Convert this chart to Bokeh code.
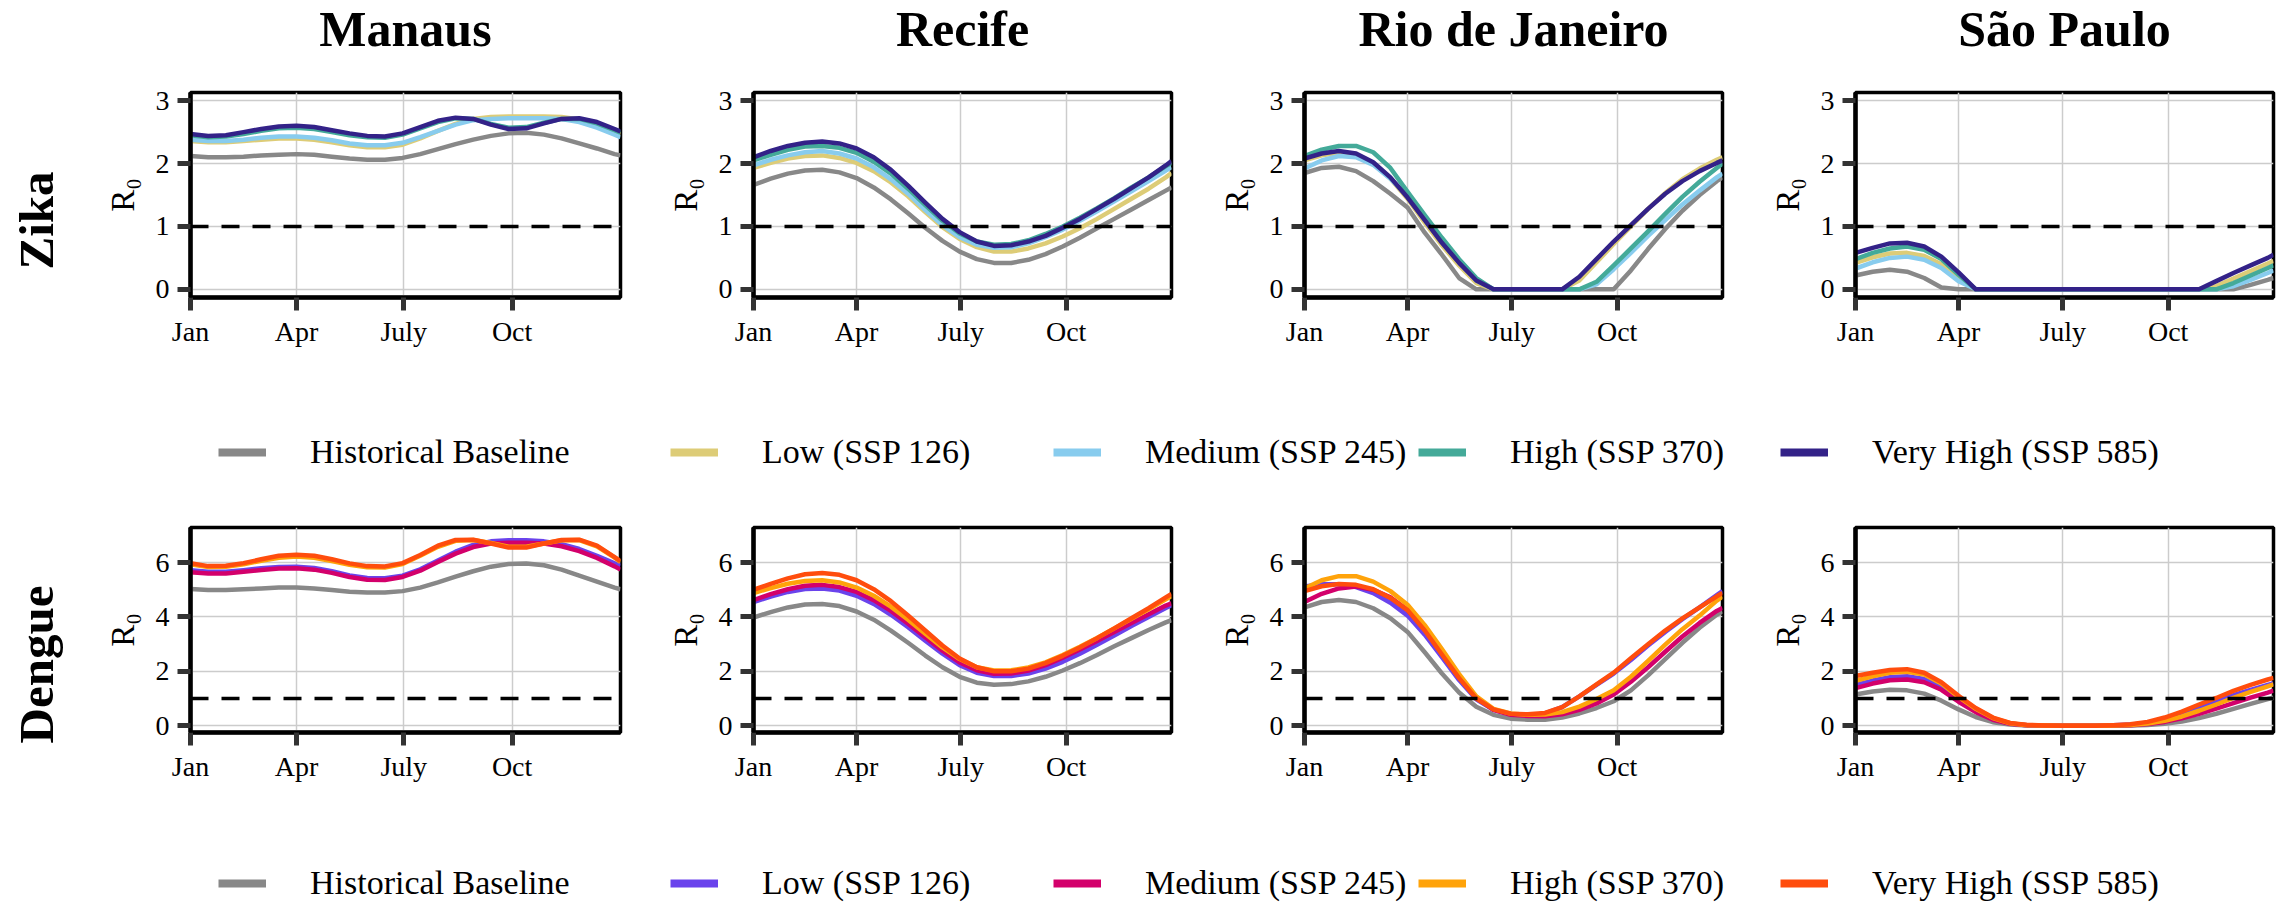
from bokeh.plotting import figure
from bokeh.layouts import column, row
from bokeh.models import Range1d, FixedTicker, Span, Label, Legend, LegendItem
from bokeh.embed import file_html
from bokeh.resources import INLINE

# ---------------- data ----------------
days = [0, 15, 30, 45, 60, 75, 90, 105, 120, 135, 150, 165, 180, 195, 210,
        225, 240, 255, 270, 285, 300, 315, 330, 345, 360, 365]
month_ticks = [0, 90, 181, 273]
month_labels = ["Jan", "Apr", "July", "Oct"]
cities = ["Manaus", "Recife", "Rio de Janeiro", "São Paulo"]
diseases = ["Zika", "Dengue"]
scenarios = ["Historical Baseline", "Low (SSP 126)", "Medium (SSP 245)",
             "High (SSP 370)", "Very High (SSP 585)"]
zika_colors = ["#888888", "#DDCC77", "#88CCEE", "#44AA99", "#332288"]
dengue_colors = ["#888888", "#6A43EC", "#D3006B", "#FFA30A", "#FF4D0D"]
zika_yticks = [0, 1, 2, 3]
dengue_yticks = [0, 2, 4, 6]
threshold = 1

# Zika – Manaus
zika_manaus_hist = [2.12, 2.10, 2.10, 2.11, 2.13, 2.14, 2.15, 2.14, 2.11, 2.08, 2.06, 2.06, 2.09, 2.15, 2.23, 2.31, 2.38, 2.44, 2.48, 2.49, 2.46, 2.40, 2.32, 2.24, 2.15, 2.13]
zika_manaus_low = [2.36, 2.34, 2.34, 2.36, 2.38, 2.40, 2.40, 2.38, 2.34, 2.29, 2.26, 2.26, 2.30, 2.40, 2.52, 2.63, 2.71, 2.74, 2.75, 2.75, 2.75, 2.74, 2.70, 2.62, 2.51, 2.46]
zika_manaus_med = [2.38, 2.36, 2.36, 2.38, 2.41, 2.43, 2.43, 2.41, 2.37, 2.32, 2.29, 2.29, 2.33, 2.42, 2.52, 2.62, 2.69, 2.71, 2.72, 2.72, 2.72, 2.71, 2.66, 2.57, 2.46, 2.42]
zika_manaus_high = [2.45, 2.42, 2.43, 2.47, 2.52, 2.56, 2.57, 2.55, 2.50, 2.45, 2.42, 2.41, 2.46, 2.56, 2.66, 2.72, 2.71, 2.63, 2.57, 2.58, 2.65, 2.71, 2.71, 2.64, 2.53, 2.49]
zika_manaus_vhigh = [2.47, 2.44, 2.45, 2.50, 2.55, 2.59, 2.60, 2.58, 2.53, 2.48, 2.44, 2.43, 2.48, 2.58, 2.68, 2.73, 2.71, 2.62, 2.55, 2.56, 2.64, 2.71, 2.72, 2.66, 2.55, 2.51]

# Zika – Recife
zika_recife_hist = [1.66, 1.76, 1.84, 1.89, 1.90, 1.86, 1.77, 1.62, 1.43, 1.21, 0.98, 0.77, 0.60, 0.48, 0.42, 0.42, 0.47, 0.56, 0.68, 0.82, 0.97, 1.12, 1.27, 1.42, 1.57, 1.62]
zika_recife_low = [1.93, 2.01, 2.08, 2.12, 2.13, 2.09, 2.01, 1.88, 1.70, 1.48, 1.23, 0.99, 0.80, 0.67, 0.60, 0.60, 0.65, 0.73, 0.84, 0.97, 1.12, 1.28, 1.44, 1.60, 1.78, 1.85]
zika_recife_med = [1.97, 2.06, 2.13, 2.18, 2.20, 2.16, 2.08, 1.94, 1.75, 1.52, 1.26, 1.02, 0.83, 0.71, 0.66, 0.67, 0.73, 0.83, 0.95, 1.09, 1.24, 1.40, 1.56, 1.72, 1.89, 1.94]
zika_recife_high = [2.05, 2.14, 2.22, 2.27, 2.28, 2.25, 2.17, 2.03, 1.84, 1.60, 1.34, 1.09, 0.89, 0.76, 0.71, 0.72, 0.78, 0.88, 1.00, 1.14, 1.29, 1.45, 1.62, 1.78, 1.96, 2.01]
zika_recife_vhigh = [2.10, 2.20, 2.28, 2.33, 2.35, 2.32, 2.24, 2.10, 1.90, 1.65, 1.38, 1.12, 0.91, 0.76, 0.69, 0.70, 0.76, 0.85, 0.98, 1.12, 1.28, 1.44, 1.61, 1.78, 1.97, 2.04]

# Zika – Rio de Janeiro
zika_rio_hist = [1.85, 1.93, 1.95, 1.88, 1.72, 1.52, 1.30, 0.90, 0.55, 0.18, 0, 0, 0, 0, 0, 0, 0, 0, 0, 0.30, 0.64, 0.96, 1.25, 1.50, 1.72, 1.78]
zika_rio_low = [2.05, 2.13, 2.17, 2.13, 2.00, 1.76, 1.44, 1.06, 0.70, 0.38, 0.10, 0, 0, 0, 0, 0, 0.14, 0.43, 0.72, 1.00, 1.28, 1.53, 1.75, 1.92, 2.06, 2.10]
zika_rio_med = [1.92, 2.05, 2.12, 2.10, 1.98, 1.76, 1.48, 1.12, 0.76, 0.43, 0.14, 0, 0, 0, 0, 0, 0, 0.08, 0.32, 0.58, 0.85, 1.10, 1.35, 1.57, 1.78, 1.84]
zika_rio_high = [2.12, 2.22, 2.28, 2.28, 2.18, 1.93, 1.55, 1.18, 0.82, 0.48, 0.18, 0, 0, 0, 0, 0, 0, 0.12, 0.38, 0.65, 0.92, 1.20, 1.47, 1.71, 1.93, 2.00]
zika_rio_vhigh = [2.08, 2.16, 2.20, 2.16, 2.02, 1.78, 1.46, 1.10, 0.74, 0.42, 0.14, 0, 0, 0, 0, 0, 0.20, 0.48, 0.76, 1.02, 1.28, 1.52, 1.72, 1.88, 2.01, 2.05]

# Zika – São Paulo
zika_sp_hist = [0.22, 0.28, 0.31, 0.28, 0.18, 0.03, 0, 0, 0, 0, 0, 0, 0, 0, 0, 0, 0, 0, 0, 0, 0, 0, 0, 0.07, 0.15, 0.18]
zika_sp_low = [0.42, 0.51, 0.57, 0.58, 0.53, 0.40, 0.18, 0, 0, 0, 0, 0, 0, 0, 0, 0, 0, 0, 0, 0, 0, 0.05, 0.17, 0.29, 0.41, 0.45]
zika_sp_med = [0.33, 0.43, 0.50, 0.52, 0.47, 0.34, 0.13, 0, 0, 0, 0, 0, 0, 0, 0, 0, 0, 0, 0, 0, 0, 0, 0.05, 0.15, 0.26, 0.30]
zika_sp_high = [0.48, 0.58, 0.65, 0.68, 0.63, 0.48, 0.23, 0, 0, 0, 0, 0, 0, 0, 0, 0, 0, 0, 0, 0, 0, 0, 0.10, 0.22, 0.34, 0.38]
zika_sp_vhigh = [0.58, 0.66, 0.73, 0.74, 0.68, 0.52, 0.27, 0, 0, 0, 0, 0, 0, 0, 0, 0, 0, 0, 0, 0, 0, 0.13, 0.26, 0.38, 0.50, 0.55]

# Dengue – Manaus
dengue_manaus_hist = [5.03, 4.99, 4.99, 5.02, 5.05, 5.08, 5.08, 5.05, 4.99, 4.93, 4.90, 4.90, 4.95, 5.08, 5.27, 5.48, 5.68, 5.85, 5.95, 5.97, 5.90, 5.74, 5.52, 5.30, 5.08, 5.02]
dengue_manaus_low = [5.72, 5.66, 5.66, 5.72, 5.79, 5.84, 5.85, 5.80, 5.68, 5.53, 5.43, 5.42, 5.52, 5.75, 6.08, 6.40, 6.65, 6.78, 6.82, 6.82, 6.78, 6.68, 6.50, 6.25, 5.97, 5.88]
dengue_manaus_med = [5.64, 5.60, 5.60, 5.66, 5.73, 5.78, 5.79, 5.74, 5.62, 5.47, 5.37, 5.36, 5.47, 5.70, 6.02, 6.33, 6.57, 6.70, 6.73, 6.73, 6.70, 6.60, 6.42, 6.17, 5.86, 5.74]
dengue_manaus_high = [5.94, 5.84, 5.85, 5.94, 6.07, 6.18, 6.22, 6.18, 6.06, 5.92, 5.83, 5.82, 5.95, 6.25, 6.58, 6.80, 6.83, 6.72, 6.58, 6.58, 6.70, 6.82, 6.83, 6.60, 6.18, 6.02]
dengue_manaus_vhigh = [5.98, 5.87, 5.88, 5.98, 6.12, 6.25, 6.29, 6.25, 6.12, 5.97, 5.87, 5.86, 5.98, 6.28, 6.62, 6.83, 6.84, 6.70, 6.55, 6.55, 6.70, 6.83, 6.84, 6.62, 6.20, 6.05]

# Dengue – Recife
dengue_recife_hist = [3.98, 4.18, 4.35, 4.46, 4.48, 4.40, 4.20, 3.90, 3.50, 3.05, 2.58, 2.15, 1.80, 1.58, 1.51, 1.53, 1.63, 1.80, 2.03, 2.30, 2.60, 2.92, 3.22, 3.52, 3.80, 3.88]
dengue_recife_low = [4.55, 4.75, 4.92, 5.03, 5.05, 4.97, 4.78, 4.48, 4.08, 3.62, 3.13, 2.65, 2.23, 1.95, 1.83, 1.83, 1.92, 2.10, 2.35, 2.65, 2.98, 3.32, 3.67, 4.00, 4.33, 4.43]
dengue_recife_med = [4.62, 4.84, 5.02, 5.15, 5.18, 5.10, 4.92, 4.62, 4.22, 3.75, 3.25, 2.76, 2.33, 2.04, 1.91, 1.92, 2.03, 2.23, 2.50, 2.80, 3.12, 3.45, 3.78, 4.10, 4.42, 4.50]
dengue_recife_high = [4.88, 5.06, 5.22, 5.32, 5.35, 5.27, 5.08, 4.78, 4.38, 3.90, 3.38, 2.88, 2.45, 2.15, 2.03, 2.04, 2.14, 2.33, 2.60, 2.90, 3.23, 3.58, 3.93, 4.28, 4.65, 4.76]
dengue_recife_vhigh = [5.00, 5.22, 5.42, 5.57, 5.62, 5.55, 5.35, 5.02, 4.58, 4.05, 3.50, 2.95, 2.47, 2.15, 2.00, 2.00, 2.10, 2.30, 2.57, 2.88, 3.22, 3.58, 3.95, 4.32, 4.72, 4.85]

# Dengue – Rio de Janeiro
dengue_rio_hist = [4.35, 4.55, 4.62, 4.55, 4.32, 3.95, 3.45, 2.70, 1.92, 1.22, 0.70, 0.40, 0.26, 0.22, 0.22, 0.30, 0.45, 0.65, 0.90, 1.30, 1.85, 2.45, 3.05, 3.60, 4.08, 4.20]
dengue_rio_low = [5.12, 5.20, 5.20, 5.10, 4.88, 4.52, 4.05, 3.35, 2.52, 1.68, 0.97, 0.58, 0.42, 0.38, 0.45, 0.68, 1.08, 1.50, 1.92, 2.42, 2.95, 3.45, 3.92, 4.35, 4.80, 4.95]
dengue_rio_med = [4.55, 4.85, 5.05, 5.12, 5.00, 4.72, 4.25, 3.55, 2.70, 1.82, 1.05, 0.58, 0.40, 0.36, 0.35, 0.42, 0.58, 0.82, 1.15, 1.62, 2.15, 2.72, 3.28, 3.78, 4.22, 4.33]
dengue_rio_high = [5.05, 5.35, 5.50, 5.50, 5.30, 4.95, 4.45, 3.70, 2.82, 1.90, 1.08, 0.62, 0.45, 0.40, 0.41, 0.50, 0.70, 0.98, 1.30, 1.80, 2.38, 2.98, 3.55, 4.05, 4.60, 4.75]
dengue_rio_vhigh = [4.95, 5.13, 5.21, 5.18, 5.02, 4.70, 4.25, 3.50, 2.62, 1.75, 1.00, 0.60, 0.44, 0.42, 0.47, 0.68, 1.08, 1.52, 1.95, 2.48, 3.00, 3.50, 3.95, 4.35, 4.76, 4.88]

# Dengue – São Paulo
dengue_sp_hist = [1.15, 1.26, 1.32, 1.30, 1.18, 0.92, 0.60, 0.32, 0.13, 0.04, 0.01, 0, 0, 0, 0, 0, 0.01, 0.03, 0.07, 0.15, 0.28, 0.44, 0.62, 0.80, 0.98, 1.03]
dengue_sp_low = [1.50, 1.66, 1.78, 1.82, 1.72, 1.42, 0.95, 0.55, 0.24, 0.08, 0.02, 0.01, 0, 0, 0, 0.02, 0.04, 0.11, 0.24, 0.43, 0.66, 0.89, 1.12, 1.32, 1.50, 1.56]
dengue_sp_med = [1.38, 1.55, 1.67, 1.70, 1.60, 1.32, 0.88, 0.50, 0.22, 0.07, 0.02, 0.01, 0, 0, 0, 0.01, 0.02, 0.06, 0.14, 0.27, 0.44, 0.63, 0.83, 1.03, 1.22, 1.29]
dengue_sp_high = [1.65, 1.82, 1.95, 1.98, 1.88, 1.55, 1.06, 0.62, 0.28, 0.09, 0.02, 0.01, 0, 0, 0, 0.01, 0.03, 0.08, 0.18, 0.34, 0.55, 0.78, 1.02, 1.24, 1.45, 1.52]
dengue_sp_vhigh = [1.83, 1.95, 2.05, 2.08, 1.95, 1.60, 1.10, 0.65, 0.30, 0.10, 0.03, 0.01, 0, 0, 0, 0.02, 0.05, 0.14, 0.30, 0.52, 0.78, 1.02, 1.28, 1.50, 1.70, 1.76]

zika_series = [
    [zika_manaus_hist, zika_manaus_low, zika_manaus_med, zika_manaus_high, zika_manaus_vhigh],
    [zika_recife_hist, zika_recife_low, zika_recife_med, zika_recife_high, zika_recife_vhigh],
    [zika_rio_hist, zika_rio_low, zika_rio_med, zika_rio_high, zika_rio_vhigh],
    [zika_sp_hist, zika_sp_low, zika_sp_med, zika_sp_high, zika_sp_vhigh],
]
dengue_series = [
    [dengue_manaus_hist, dengue_manaus_low, dengue_manaus_med, dengue_manaus_high, dengue_manaus_vhigh],
    [dengue_recife_hist, dengue_recife_low, dengue_recife_med, dengue_recife_high, dengue_recife_vhigh],
    [dengue_rio_hist, dengue_rio_low, dengue_rio_med, dengue_rio_high, dengue_rio_vhigh],
    [dengue_sp_hist, dengue_sp_low, dengue_sp_med, dengue_sp_high, dengue_sp_vhigh],
]

# ---------------- style / layout ----------------
FONT = "Liberation Serif"
TOTAL_W = 2285
TOTAL_H = 909
STRIP_W = 100          # left strip holding the row labels
MAIN_W = TOTAL_W - STRIP_W
FRAME_WS = [430, 418, 418, 418]
LEFT_BS = [90, 125, 125, 125]
RIGHT_B = 8
TITLE_H = 70
ZIKA_TOP = 22
DENGUE_TOP = 17
FRAME_H = 205
BOTTOM_B = 53

FRAME_LEFTS = []
_acc = 0
for _lb, _fw in zip(LEFT_BS, FRAME_WS):
    FRAME_LEFTS.append(_acc + _lb)
    _acc += _lb + _fw + RIGHT_B


def blank(width, height):
    p = figure(width=width, height=height, x_range=Range1d(0, 1), y_range=Range1d(0, 1),
               x_axis_type=None, y_axis_type=None, min_border=0,
               toolbar_location=None, output_backend="svg", outline_line_color=None)
    p.grid.visible = False
    return p


def make_panel(series, colors, yrange, yticks, col, top):
    left = LEFT_BS[col]
    fw = FRAME_WS[col]
    p = figure(width=left + fw + RIGHT_B, height=top + FRAME_H + BOTTOM_B,
               x_range=Range1d(0, 365), y_range=Range1d(*yrange),
               min_border_left=left, min_border_right=RIGHT_B,
               min_border_top=top, min_border_bottom=BOTTOM_B,
               toolbar_location=None, output_backend="svg")
    p.xaxis.ticker = FixedTicker(ticks=month_ticks)
    p.xgrid.ticker = FixedTicker(ticks=month_ticks)
    p.xaxis.major_label_overrides = dict(zip(month_ticks, month_labels))
    p.yaxis.ticker = FixedTicker(ticks=yticks)
    p.ygrid.ticker = FixedTicker(ticks=yticks)
    for ax in p.axis:
        ax.axis_line_width = 4.5
        ax.axis_line_color = "black"
        ax.major_tick_line_width = 5
        ax.major_tick_line_color = "#333333"
        ax.major_tick_out = 13
        ax.major_tick_in = 0
        ax.minor_tick_line_color = None
        ax.major_label_text_font = FONT
        ax.major_label_text_font_size = "28px"
        ax.major_label_text_color = "black"
    p.xaxis.major_label_standoff = 5
    p.yaxis.major_label_standoff = 8
    p.yaxis.axis_label = "R₀"
    p.yaxis.axis_label_text_font = FONT
    p.yaxis.axis_label_text_font_size = "33px"
    p.yaxis.axis_label_text_font_style = "normal"
    p.yaxis.axis_label_text_color = "black"
    p.yaxis.axis_label_standoff = 12
    p.grid.grid_line_color = "#cccccc"
    p.grid.grid_line_width = 1.5
    p.outline_line_color = "black"
    p.outline_line_width = 3.5
    p.outline_line_alpha = 1
    for vals, c in zip(series, colors):
        p.line(days, vals, line_color=c, line_width=4.5, line_join="round")
    p.add_layout(Span(location=threshold, dimension="width", line_color="black",
                      line_width=3.5, line_dash="18 13"))
    return p


def label_strip():
    # row labels, centred at page y = 220 (Zika) and 664 (Dengue)
    p = blank(STRIP_W, TOTAL_H)
    for text, yc in zip(diseases, [TOTAL_H - 220, TOTAL_H - 664]):
        p.add_layout(Label(x=36, y=yc, x_units="screen", y_units="screen",
                           text=text, angle=90, angle_units="deg",
                           text_align="center", text_baseline="middle",
                           text_font=FONT, text_font_size="49px",
                           text_font_style="bold", text_color="black"))
    return p


def title_strip():
    p = blank(MAIN_W, TITLE_H)
    for city, fl, fw in zip(cities, FRAME_LEFTS, FRAME_WS):
        p.add_layout(Label(x=fl + fw / 2, y=42, x_units="screen", y_units="screen",
                           text=city, text_align="center", text_baseline="middle",
                           text_font=FONT, text_font_size="50px",
                           text_font_style="bold", text_color="black"))
    return p


def make_legend(colors, series, height, bottom):
    p = figure(width=MAIN_W, height=height, x_range=Range1d(0, 365), y_range=Range1d(100, 101),
               x_axis_type=None, y_axis_type=None, min_border=0,
               toolbar_location=None, output_backend="svg", outline_line_color=None)
    p.grid.visible = False
    xs = [118, 570, 953, 1318, 1680]
    for name, c, vals, x in zip(scenarios, colors, series, xs):
        r = p.line(days, vals, line_color=c, line_width=8)
        lg = Legend(items=[LegendItem(label=name, renderers=[r])], location=(x, bottom),
                    orientation="horizontal", padding=0, margin=0, spacing=0,
                    glyph_width=48, glyph_height=36, label_height=36,
                    label_standoff=44, label_text_font=FONT, label_text_font_size="34px",
                    label_text_color="black",
                    border_line_color=None, background_fill_alpha=0)
        p.add_layout(lg)
    return p


zika_row = row(*[make_panel(zika_series[i], zika_colors, (-0.13, 3.13), zika_yticks, i, ZIKA_TOP)
                 for i in range(4)], spacing=0)
dengue_row = row(*[make_panel(dengue_series[i], dengue_colors, (-0.25, 7.29), dengue_yticks, i, DENGUE_TOP)
                   for i in range(4)], spacing=0)
leg1 = make_legend(zika_colors, zika_series[0], 160, 39)
leg2 = make_legend(dengue_colors, dengue_series[0], 125, 8)

main = column(title_strip(), zika_row, leg1, dengue_row, leg2, spacing=0)
layout = row(label_strip(), main, spacing=0)
open("out.html", "w").write(file_html(layout, INLINE))
